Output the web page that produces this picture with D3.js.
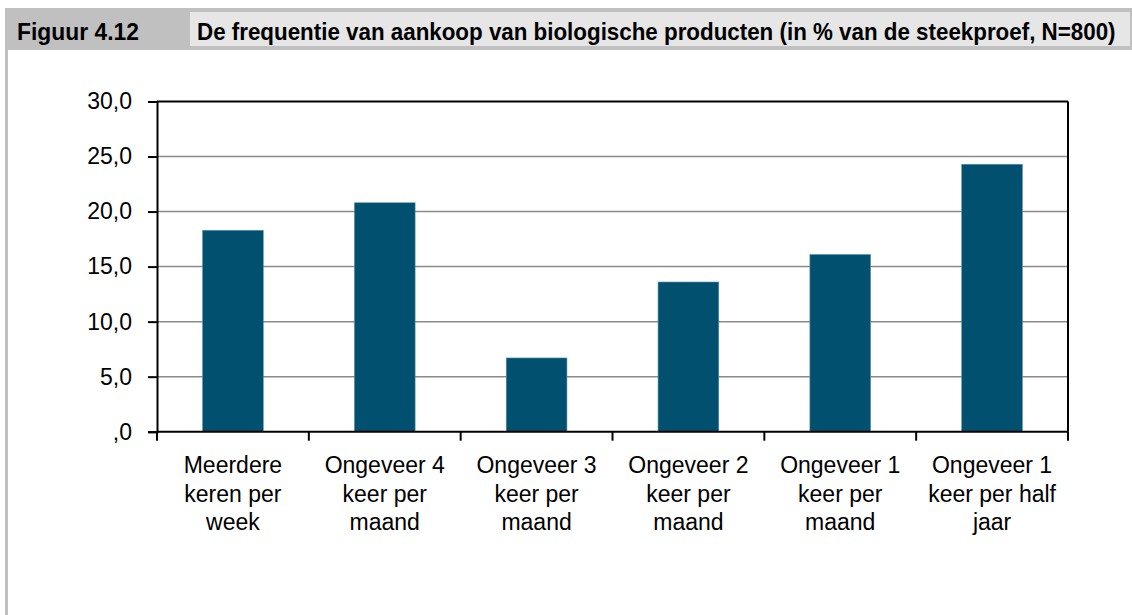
<!DOCTYPE html>
<html>
<head>
<meta charset="utf-8">
<script src="https://cdn.jsdelivr.net/npm/d3@7"></script>
<style>
  body { margin: 0; background: #fff; }
  svg { display: block; }
  text { font-family: "Liberation Sans", Arial, sans-serif; fill: #000; }
</style>
</head>
<body>
<svg id="chart" width="1132" height="615"></svg>
<script>
// chart data
const categories = [
  ["Meerdere", "keren per", "week"],
  ["Ongeveer 4", "keer per", "maand"],
  ["Ongeveer 3", "keer per", "maand"],
  ["Ongeveer 2", "keer per", "maand"],
  ["Ongeveer 1", "keer per", "maand"],
  ["Ongeveer 1", "keer per half", "jaar"]
];
const values = [18.3, 20.8, 6.7, 13.6, 16.1, 24.3];
const yTicks = [0, 5, 10, 15, 20, 25, 30];
const figLabel = "Figuur 4.12";
const title = "De frequentie van aankoop van biologische producten (in % van de steekproef, N=800)";

const svg = d3.select('#chart');

// frame + header
svg.append('rect').attr('x', 5).attr('y', 8).attr('width', 1127).attr('height', 42).attr('fill', '#c0c0c0');
svg.append('rect').attr('x', 5).attr('y', 50).attr('width', 3).attr('height', 565).attr('fill', '#c0c0c0');
svg.append('rect').attr('x', 190).attr('y', 12).attr('width', 940).attr('height', 34).attr('fill', '#e6e6e6');

// header font is condensed in the original: squeeze horizontally to fit
function headerText(str, x0, width) {
  const g = svg.append('g');
  const t = g.append('text').attr('x', 0).attr('y', 40)
    .style('font-size', '23px').style('font-weight', 'bold').text(str);
  const w = t.node().getComputedTextLength();
  g.attr('transform', `translate(${x0},0) scale(${Math.min(1, width / w)},1)`);
}
headerText(figLabel, 17, 122);
headerText(title, 197, 919);

const plotL = 157, plotR = 1068, plotT = 101.5, plotB = 431.7;

const x = d3.scaleBand().domain(d3.range(categories.length)).range([plotL, plotR]);
const y = d3.scaleLinear().domain([0, 30]).range([plotB, plotT]);

const fmt = v => (v === 0 ? ',0' : d3.format('.1f')(v).replace('.', ','));

// gridlines
svg.append('g').selectAll('line')
  .data(yTicks.filter(t => t > 0 && t < 30))
  .enter().append('line')
  .attr('x1', plotL).attr('x2', plotR)
  .attr('y1', d => y(d)).attr('y2', d => y(d))
  .attr('stroke', '#8a8a8a').attr('stroke-width', 1.5);

// bars
svg.append('g').selectAll('rect')
  .data(values)
  .enter().append('rect')
  .attr('x', (d, i) => x(i) + x.bandwidth() * 0.3)
  .attr('width', x.bandwidth() * 0.4)
  .attr('y', d => y(d))
  .attr('height', d => y(0) - y(d))
  .attr('fill', '#02506f')
  .attr('stroke', '#5e93ab').attr('stroke-width', 0.6);

// plot border top + right
svg.append('line').attr('x1', plotL).attr('x2', plotR).attr('y1', plotT).attr('y2', plotT)
  .attr('stroke', '#000').attr('stroke-width', 2);
svg.append('line').attr('x1', plotR).attr('x2', plotR).attr('y1', plotT).attr('y2', plotB)
  .attr('stroke', '#000').attr('stroke-width', 2);

// y axis
const yAxis = svg.append('g')
  .attr('transform', `translate(${plotL},0)`)
  .call(d3.axisLeft(y).tickValues(yTicks).tickFormat(fmt).tickSize(9).tickPadding(16));
yAxis.attr('font-family', null).attr('font-size', null);
yAxis.select('.domain').attr('stroke-width', 2);
yAxis.selectAll('.tick line').attr('stroke-width', 2);
yAxis.selectAll('text').style('font-size', '23px');

// x axis with boundary ticks
const xAxis = svg.append('g').attr('transform', `translate(0,${plotB})`);
xAxis.append('line').attr('x1', plotL).attr('x2', plotR).attr('stroke', '#000').attr('stroke-width', 2);
xAxis.selectAll('.bt')
  .data(d3.range(categories.length + 1))
  .enter().append('line')
  .attr('x1', i => i < categories.length ? x(i) : plotR)
  .attr('x2', i => i < categories.length ? x(i) : plotR)
  .attr('y1', 0).attr('y2', 9)
  .attr('stroke', '#000').attr('stroke-width', 2);

const labels = svg.append('g').selectAll('text')
  .data(categories)
  .enter().append('text')
  .attr('text-anchor', 'middle')
  .attr('x', (d, i) => x(i) + x.bandwidth() / 2)
  .attr('y', 473)
  .style('font-size', '23px');
labels.selectAll('tspan')
  .data(d => d)
  .enter().append('tspan')
  .attr('x', function () { return d3.select(this.parentNode).attr('x'); })
  .attr('dy', (d, i) => i === 0 ? 0 : 28.5)
  .text(d => d);
</script>
</body>
</html>
